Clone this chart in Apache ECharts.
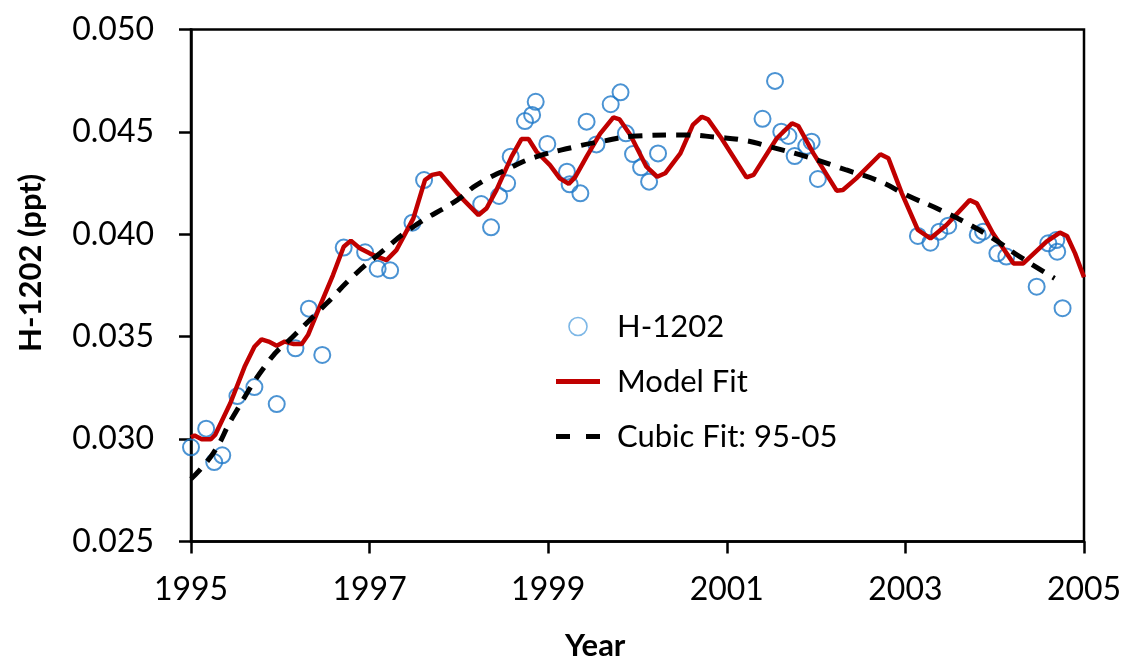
<!DOCTYPE html>
<html>
<head>
<meta charset="utf-8">
<script src="https://cdn.jsdelivr.net/npm/echarts@6/dist/echarts.min.js"></script>
<style>
html,body{margin:0;padding:0;background:#fff;}
#chart{width:1125px;height:658px;}
</style>
</head>
<body>
<div id="chart"></div>
<script>
// Observations (H-1202)
const obsYears = [1995.00,1995.17,1995.26,1995.35,1995.52,1995.71,1995.96,1996.17,1996.32,1996.47,
  1996.71,1996.95,1997.09,1997.23,1997.48,1997.61,1998.25,1998.36,1998.45,1998.54,
  1998.58,1998.74,1998.82,1998.86,1998.99,1999.21,1999.24,1999.36,1999.43,1999.54,
  1999.70,1999.81,1999.87,1999.95,2000.04,2000.13,2000.23,2001.40,2001.54,2001.61,
  2001.69,2001.76,2001.89,2001.95,2002.02,2003.14,2003.28,2003.38,2003.48,2003.81,
  2003.87,2004.03,2004.13,2004.47,2004.60,2004.69,2004.70,2004.76];
const obsValues = [0.02960,0.03051,0.02888,0.02921,0.03210,0.03254,0.03171,0.03443,0.03637,0.03411,
  0.03935,0.03912,0.03832,0.03824,0.04057,0.04265,0.04148,0.04034,0.04187,0.04249,
  0.04379,0.04553,0.04583,0.04647,0.04441,0.04306,0.04244,0.04200,0.04550,0.04439,
  0.04635,0.04693,0.04493,0.04392,0.04327,0.04257,0.04395,0.04564,0.04749,0.04501,
  0.04480,0.04382,0.04431,0.04452,0.04270,0.03992,0.03959,0.04013,0.04042,0.03997,
  0.04013,0.03907,0.03891,0.03744,0.03956,0.03972,0.03915,0.03639];

// Model fit
const modelYears = [1995.00,1995.04,1995.12,1995.22,1995.27,1995.44,1995.60,1995.71,1995.79,1995.87,
  1995.96,1996.05,1996.15,1996.24,1996.31,1996.44,1996.59,1996.71,1996.79,1996.89,
  1997.00,1997.10,1997.19,1997.30,1997.49,1997.62,1997.70,1997.79,1997.98,1998.22,
  1998.31,1998.42,1998.59,1998.70,1998.78,1998.87,1999.02,1999.13,1999.23,1999.30,
  1999.43,1999.58,1999.73,1999.80,1999.92,2000.10,2000.22,2000.31,2000.48,2000.62,
  2000.72,2000.79,2000.94,2001.22,2001.30,2001.56,2001.73,2001.80,2001.97,2002.23,
  2002.30,2002.45,2002.72,2002.81,2002.96,2003.14,2003.28,2003.46,2003.72,2003.80,
  2003.98,2004.21,2004.32,2004.58,2004.73,2004.81,2004.90,2005.00];
const modelValues = [0.03009,0.03017,0.02999,0.02999,0.03020,0.03175,0.03353,0.03451,0.03487,0.03476,
  0.03456,0.03476,0.03464,0.03464,0.03508,0.03646,0.03801,0.03939,0.03969,0.03932,
  0.03907,0.03888,0.03874,0.03923,0.04078,0.04265,0.04290,0.04298,0.04200,0.04094,
  0.04127,0.04216,0.04379,0.04465,0.04465,0.04403,0.04338,0.04273,0.04246,0.04278,
  0.04379,0.04490,0.04571,0.04561,0.04485,0.04330,0.04281,0.04298,0.04395,0.04534,
  0.04574,0.04561,0.04469,0.04278,0.04290,0.04469,0.04542,0.04529,0.04395,0.04213,
  0.04216,0.04273,0.04391,0.04371,0.04200,0.04021,0.03980,0.04045,0.04167,0.04151,
  0.04005,0.03858,0.03858,0.03964,0.04008,0.03992,0.03907,0.03790];

// Cubic fit 95-05
const cubicYears = [1995.00,1995.25,1995.47,1995.88,1996.14,1996.52,1996.81,1997.12,1997.49,1997.98,
  1998.20,1998.57,1998.87,1999.28,1999.58,1999.99,2000.51,2000.89,2001.22,2001.45,
  2001.89,2002.34,2002.72,2003.01,2003.39,2003.69,2003.98,2004.28,2004.67];
const cubicValues = [0.02805,0.02932,0.03109,0.03386,0.03500,0.03663,0.03793,0.03909,0.04037,0.04167,
  0.04241,0.04324,0.04379,0.04425,0.04452,0.04480,0.04485,0.04474,0.04457,0.04431,
  0.04379,0.04314,0.04257,0.04192,0.04119,0.04054,0.03980,0.03891,0.03785];

const seriesNames = ['H-1202', 'Model Fit', 'Cubic Fit: 95-05'];
const xAxisTitle = 'Year';
const yAxisTitle = 'H-1202 (ppt)';

const zip = (xs, ys) => xs.map((x, i) => [x, ys[i]]);
const FONT = 'Lato, "Open Sans", sans-serif';

// legend icons (44 x 18 box)
const solidIcon = 'path://M0,0 M0,6.5h44v5h-44z M44,18';
const dashIcon = 'path://M0,0 M0,6.5h14v5h-14z M30,6.5h14v5h-14z M44,18';

const chart = echarts.init(document.getElementById('chart'), null, {renderer: 'canvas'});
chart.setOption({
  animation: false,
  backgroundColor: '#ffffff',
  grid: {left: 191, right: 41, top: 29.5, bottom: 116.5, show: true,
         borderColor: '#000', borderWidth: 2.5, backgroundColor: 'transparent'},
  xAxis: {
    type: 'value', min: 1995, max: 2005, interval: 2,
    axisLine: {show: true, lineStyle: {color: '#000', width: 2.5}},
    axisTick: {show: true, inside: false, length: 12, lineStyle: {color: '#000', width: 2.5}},
    splitLine: {show: false},
    axisLabel: {color: '#000', fontSize: 32, fontFamily: FONT, margin: 32,
                formatter: v => String(Math.round(v))}
  },
  yAxis: {
    type: 'value', min: 0.025, max: 0.050, interval: 0.005,
    axisLine: {show: true, lineStyle: {color: '#000', width: 2.5}},
    axisTick: {show: true, inside: false, length: 12, lineStyle: {color: '#000', width: 2.5}},
    splitLine: {show: false},
    axisLabel: {color: '#000', fontSize: 32, fontFamily: FONT, margin: 37,
                formatter: v => v.toFixed(3)}
  },
  legend: {
    orient: 'vertical', left: 551, top: 306, itemGap: 24,
    itemWidth: 44, itemHeight: 18,
    textStyle: {color: '#000', fontSize: 31, fontFamily: FONT, padding: [0, 0, 0, 12]},
    data: [
      {name: seriesNames[0], icon: 'circle',
       itemStyle: {color: 'rgba(255,255,255,0)', borderColor: '#5DA5E0', borderWidth: 1.6}},
      {name: seriesNames[1], icon: solidIcon, itemStyle: {color: '#C00000', borderWidth: 0}},
      {name: seriesNames[2], icon: dashIcon, itemStyle: {color: '#000', borderWidth: 0}}
    ]
  },
  graphic: [
    {type: 'text', left: 565, top: 630,
     style: {text: xAxisTitle, fontSize: 31, fontWeight: 'bold', fontFamily: FONT, fill: '#000'}},
    {type: 'text', x: 15, y: 352, rotation: Math.PI / 2,
     style: {text: yAxisTitle, fontSize: 31, fontWeight: 'bold', fontFamily: FONT, fill: '#000'}}
  ],
  series: [
    {
      name: seriesNames[0], type: 'scatter', data: zip(obsYears, obsValues),
      symbol: 'circle', symbolSize: 16, z: 2,
      itemStyle: {color: 'rgba(255,255,255,0)', borderColor: '#1E78C8', borderWidth: 2}
    },
    {
      name: seriesNames[1], type: 'line', data: zip(modelYears, modelValues),
      showSymbol: false, symbol: 'none', smooth: false, z: 3,
      lineStyle: {color: '#C00000', width: 4.5}, itemStyle: {color: '#C00000'}
    },
    {
      name: seriesNames[2], type: 'line', data: zip(cubicYears, cubicValues),
      showSymbol: false, symbol: 'none', smooth: true, z: 4,
      lineStyle: {color: '#000', width: 5, type: [14, 10]}, itemStyle: {color: '#000'}
    }
  ]
});
</script>
</body>
</html>
